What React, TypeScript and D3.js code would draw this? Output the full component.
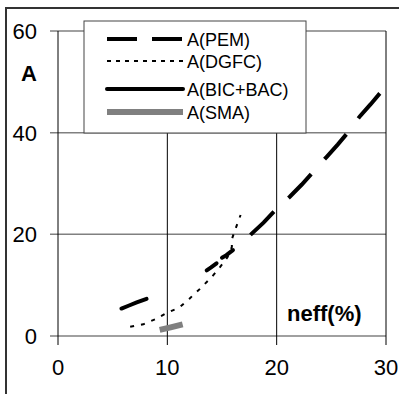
import React from 'react';
import * as d3 from 'd3';

// series: [neff(%), A]
const pemPoints: [number, number][] = [
  [17.6, 19.9], [18.8, 22.3], [19.9, 24.8], [21.2, 27.4], [22.3, 29.8], [23.3, 32.2],
  [24.6, 35.3], [25.6, 37.7], [26.5, 40.0], [27.6, 43.2], [28.6, 45.6], [29.5, 47.9],
];
const dgfcPoints: [number, number][] = [
  [6.6, 1.8], [7.8, 2.3], [8.9, 3.3], [9.9, 4.5], [11.1, 5.6], [12.0, 7.3], [13.0, 9.3],
  [14.1, 11.7], [14.8, 13.5], [15.5, 15.5], [15.9, 17.5], [15.9, 19.0], [16.2, 20.9], [16.7, 23.8],
];
// BIC+BAC is drawn in separate pieces
const bicPieces: [number, number][][] = [
  [[5.8, 5.4], [6.5, 6.0], [7.2, 6.6], [8.1, 7.3]],
  [[13.6, 12.9], [14.0, 13.5], [14.5, 14.3]],
  [[15.0, 15.4], [15.4, 15.9], [16.0, 16.9]],
];
const smaPoints: [number, number][] = [[9.3, 1.2], [10.3, 1.7], [11.4, 2.3]];

const xTicks = [0, 10, 20, 30];
const yTicks = [0, 20, 40, 60];
const legendLabels = ['A(PEM)', 'A(DGFC)', 'A(BIC+BAC)', 'A(SMA)'];

const W = 399;
const H = 394;

const x = d3.scaleLinear().domain([0, 30]).range([58, 386]);
const y = d3.scaleLinear().domain([0, 60]).range([336, 31]);

const line = d3.line<[number, number]>()
  .x(d => x(d[0]))
  .y(d => y(d[1]));

const styles = [
  { stroke: '#000', width: 4, dash: '33,20', cap: 'butt' },
  { stroke: '#000', width: 2, dash: '4,7', cap: 'butt' },
  { stroke: '#000', width: 4, dash: undefined, cap: 'round' },
  { stroke: '#808080', width: 6, dash: undefined, cap: 'butt' },
];
const series: [number, number][][][] = [[pemPoints], [dgfcPoints], bicPieces, [smaPoints]];

const font = 'Arial, "Liberation Sans", sans-serif';

export default function App() {
  const legendRows = [39, 61, 89, 112];
  return (
    <svg width={W} height={H} style={{ position: 'absolute', left: 0, top: 0, background: '#fff' }} fontFamily={font}>
      <rect x={6} y={8} width={420} height={420} fill="#fff" stroke="#333" strokeWidth={2} />

      {/* horizontal grid */}
      {yTicks.map(t => (
        <line key={'h' + t} x1={50} x2={x(30)} y1={y(t)} y2={y(t)} stroke="#808080" strokeWidth={1.5} />
      ))}
      {/* vertical grid */}
      {xTicks.map(t => (
        <line key={'v' + t} x1={x(t)} x2={x(t)} y1={y(60)} y2={345} stroke="#000" strokeWidth={1} />
      ))}

      {yTicks.map(t => (
        <text key={'yl' + t} x={37} y={y(t) + 8} fontSize={22} textAnchor="end">{t}</text>
      ))}
      {xTicks.map(t => (
        <text key={'xl' + t} x={x(t)} y={375} fontSize={22} textAnchor="middle">{t}</text>
      ))}

      <text x={29} y={81} fontSize={22} fontWeight="bold" textAnchor="middle">A</text>
      <text x={287} y={321} fontSize={22} fontWeight="bold">neff(%)</text>

      {series.map((pieces, i) =>
        pieces.map((p, j) => (
          <path key={'s' + i + '-' + j} d={line(p) || ''} fill="none" stroke={styles[i].stroke}
            strokeWidth={styles[i].width} strokeDasharray={styles[i].dash} strokeLinecap={styles[i].cap as any} />
        ))
      )}

      {/* legend */}
      <rect x={84} y={21} width={222} height={112} fill="#fff" stroke="#444" strokeWidth={1} />
      {legendLabels.map((l, i) => (
        <g key={'lg' + i}>
          <line x1={107} x2={183} y1={legendRows[i]} y2={legendRows[i]} stroke={styles[i].stroke}
            strokeWidth={styles[i].width} strokeDasharray={i === 0 ? '30,15' : i === 1 ? '4,5' : undefined}
            strokeLinecap={styles[i].cap as any} />
          <text x={187} y={legendRows[i] + 6.5} fontSize={18}>{l}</text>
        </g>
      ))}
    </svg>
  );
}
